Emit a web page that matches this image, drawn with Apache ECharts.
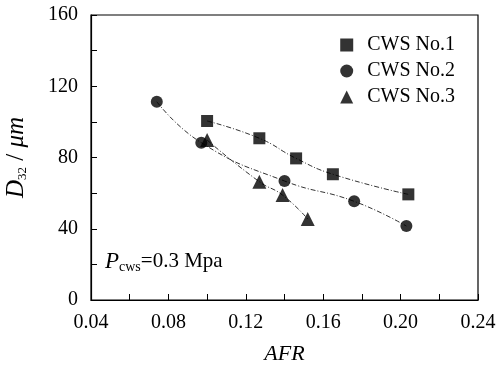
<!DOCTYPE html>
<html>
<head>
<meta charset="utf-8">
<script src="https://cdn.jsdelivr.net/npm/echarts@6/dist/echarts.min.js"></script>
<style>
  html, body { margin: 0; padding: 0; background: #fff; }
  #chart { width: 496px; height: 365px; }
</style>
</head>
<body>
<div id="chart"></div>
<script>
// values: [AFR, D32]
const cws1 = [[0.100, 100.5], [0.127, 90.8], [0.146, 79.5], [0.165, 70.6], [0.204, 59.3]];
const cws2 = [[0.074, 111.3], [0.097, 88.3], [0.140, 66.8], [0.176, 55.4], [0.203, 41.5]];
const cws3 = [[0.100, 89.8], [0.127, 66.4], [0.139, 58.9], [0.152, 45.5]];
const xTicks = [0.04, 0.08, 0.12, 0.16, 0.20, 0.24];
const yTicks = [0, 40, 80, 120, 160];

const font = 'Liberation Serif';
const chart = echarts.init(document.getElementById('chart'));

const fit = (data) => ({
  type: 'line', data: data, smooth: true, symbol: 'none', silent: true,
  lineStyle: { color: '#333', width: 1, type: [5, 2, 1, 2] }, z: 1
});
const pts = (name, data, symbol, size) => ({
  name: name, type: 'scatter', data: data, symbol: symbol, symbolSize: size,
  itemStyle: { color: '#000' }, z: 3
});

chart.setOption({
  animation: false,
  textStyle: { fontFamily: font, color: '#000' },
  grid: {
    left: 91, right: 18, top: 15, bottom: 65, containLabel: false, outerBoundsMode: 'none',
    show: true, borderColor: '#000', borderWidth: 1.2
  },
  legend: {
    right: 36, top: 30, orient: 'vertical', itemGap: 6, itemWidth: 13, itemHeight: 13,
    textStyle: { fontFamily: font, fontSize: 20, color: '#000', padding: [0, 0, 0, 9] },
    data: [
      { name: 'CWS No.1', icon: 'rect' },
      { name: 'CWS No.2', icon: 'circle' },
      { name: 'CWS No.3', icon: 'triangle' }
    ]
  },
  xAxis: {
    type: 'value', min: xTicks[0], max: xTicks[xTicks.length - 1], interval: 0.04,
    name: 'AFR', nameLocation: 'middle', nameGap: 43,
    nameTextStyle: { fontFamily: font, fontSize: 22, fontStyle: 'italic', color: '#000' },
    axisLine: { lineStyle: { color: '#000', width: 1.2 } },
    axisTick: { inside: true, length: 6, lineStyle: { color: '#000' } },
    minorTick: { show: true, splitNumber: 2, length: 6, lineStyle: { color: '#000' } },
    axisLabel: { fontFamily: font, fontSize: 20, color: '#000', margin: 13, formatter: v => v.toFixed(2) },
    splitLine: { show: false }
  },
  yAxis: {
    type: 'value', min: yTicks[0], max: yTicks[yTicks.length - 1], interval: 40,
    name: '{it|D}{sub|32}{n| / }{it|μm}', nameLocation: 'middle', nameGap: 62, nameRotate: 90,
    nameTextStyle: {
      rich: {
        it: { fontFamily: font, fontSize: 25, fontStyle: 'italic', color: '#000' },
        sub: { fontFamily: font, fontSize: 13, color: '#000', verticalAlign: 'bottom', padding: [10, 0, 0, 0] },
        n: { fontFamily: font, fontSize: 25, color: '#000' }
      }
    },
    axisLine: { lineStyle: { color: '#000', width: 1.2 } },
    axisTick: { inside: true, length: 6, lineStyle: { color: '#000' } },
    minorTick: { show: true, splitNumber: 2, length: 6, lineStyle: { color: '#000' } },
    axisLabel: { fontFamily: font, fontSize: 20, color: '#000', margin: 13 },
    splitLine: { show: false }
  },
  graphic: [{
    type: 'text', left: 105, top: 250,
    style: {
      text: '{it|P}{sub|cws}{n|=0.3 Mpa}',
      rich: {
        it: { fontFamily: font, fontSize: 23, fontStyle: 'italic', fill: '#000' },
        sub: { fontFamily: font, fontSize: 14, fill: '#000', verticalAlign: 'bottom', padding: [12, 0, 0, 0] },
        n: { fontFamily: font, fontSize: 21, fill: '#000' }
      }
    }
  }],
  series: [
    fit(cws1), fit(cws2), fit(cws3),
    pts('CWS No.1', cws1, 'rect', 12),
    pts('CWS No.2', cws2, 'circle', 12),
    pts('CWS No.3', cws3, 'triangle', 14)
  ]
});
</script>
</body>
</html>
